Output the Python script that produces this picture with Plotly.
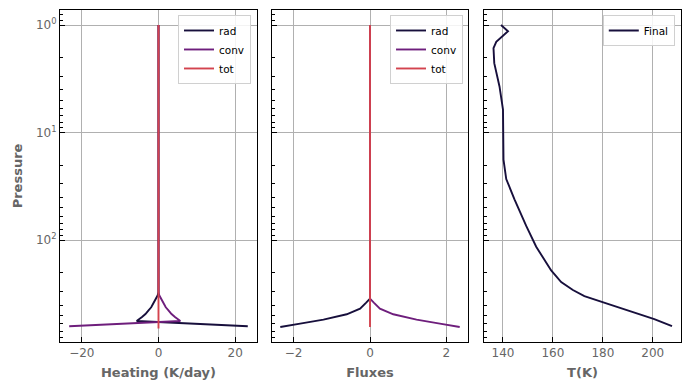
import plotly.graph_objects as go

# ---- data ----
# Heating rates (K/day)
p_heat = [1, 303, 325, 360, 388, 420, 448, 485, 517, 545, 563, 631]
heat_rad = [0, 0, -0.2, -0.8, -1.3, -1.9, -2.6, -3.4, -4.3, -5.1, -5.7, 23.3]
heat_conv = [0, 0, 0.2, 0.8, 1.3, 1.9, 2.6, 3.4, 4.3, 5.1, 5.7, -23.3]
p_heat_tot = [1, 660]
heat_tot = [0, 0]

# Fluxes
p_flux = [1, 349, 380, 432, 488, 547, 596, 641]
flux_rad = [0, 0, -0.1, -0.26, -0.61, -1.22, -1.83, -2.35]
flux_conv = [0, 0, 0.1, 0.26, 0.61, 1.22, 1.83, 2.35]
p_flux_tot = [1, 641]
flux_tot = [0, 0]

# Temperature profile
p_T = [1, 1.14, 1.43, 1.64, 2.26, 3.72, 6.1, 9.7, 17.8, 27, 41.7, 73.6, 115, 191,
       245, 290, 331, 390, 467, 540, 630]
T_final = [139.2, 142.0, 137.3, 136.2, 136.5, 138.6, 140.0, 140.2, 140.2, 141.3, 144.6,
           149.3, 153.3, 159.3, 163.3, 168.0, 172.6, 182.0, 192.6, 200.6, 207.7]

yticks = [1, 10, 100]
ytick_text = ["10<sup>0</sup>", "10<sup>1</sup>", "10<sup>2</sup>"]

C_RAD = "#170f3c"
C_CONV = "#6e1e7c"
C_TOT = "#d3434e"
LW = 1.9

fig = go.Figure()

def add(x, y, name, color, xa, ya, leg):
    fig.add_trace(go.Scatter(x=x, y=y, mode="lines", name=name,
                             line=dict(color=color, width=LW),
                             xaxis=xa, yaxis=ya, legend=leg))

add(heat_rad, p_heat, "rad", C_RAD, "x", "y", "legend")
add(heat_conv, p_heat, "conv", C_CONV, "x", "y", "legend")
add(heat_tot, p_heat_tot, "tot", C_TOT, "x", "y", "legend")
add(flux_rad, p_flux, "rad", C_RAD, "x2", "y2", "legend2")
add(flux_conv, p_flux, "conv", C_CONV, "x2", "y2", "legend2")
add(flux_tot, p_flux_tot, "tot", C_TOT, "x2", "y2", "legend2")
add(T_final, p_T, "Final", C_RAD, "x3", "y3", "legend3")

FONT = "DejaVu Sans"
GREY = "#666666"

def xax(domain, rng, title, dtick, anchor):
    return dict(domain=domain, range=rng, autorange=False, dtick=dtick, anchor=anchor,
                automargin=False,
                showgrid=True, gridcolor="#b0b0b0", gridwidth=1,
                zeroline=False, showline=True, linecolor="black", linewidth=1,
                mirror=True, ticks="inside", ticklen=5, tickcolor="black",
                tickfont=dict(family=FONT, size=12, color=GREY),
                title=dict(text="<b>" + title + "</b>", standoff=8,
                           font=dict(family=FONT, size=13, color=GREY)))

def yax(anchor, labels):
    d = dict(type="log", range=[2.946, -0.14], autorange=False, anchor=anchor,
             domain=[0, 1], automargin=False,
             tickvals=yticks, ticktext=ytick_text, showticklabels=labels,
             showgrid=True, gridcolor="#b0b0b0", gridwidth=1, zeroline=False,
             showline=True, linecolor="black", linewidth=1, mirror=True,
             ticks="inside", ticklen=5, tickcolor="black",
             minor=dict(ticks="inside", ticklen=3, tickcolor="black",
                        dtick="D1", showgrid=False),
             tickfont=dict(family=FONT, size=12, color=GREY))
    if labels:
        d["title"] = dict(text="<b>Pressure</b>", standoff=10,
                          font=dict(family=FONT, size=13, color=GREY))
    return d

d1 = [0, 0.3172]
d2 = [0.3406, 0.6578]
d3 = [0.6828, 1.0]

leg_common = dict(xanchor="right", yanchor="top", bgcolor="rgba(255,255,255,0.85)",
                  bordercolor="#d0d0d0", borderwidth=1,
                  font=dict(family=FONT, size=10.5, color="black"),
                  tracegroupgap=0, itemwidth=30)

fig.update_layout(
    width=690, height=390,
    margin=dict(l=60, r=9, t=10, b=48),
    paper_bgcolor="white", plot_bgcolor="white",
    showlegend=True,
    xaxis=xax(d1, [-25.7, 25.7], "Heating (K/day)", 20, "y"),
    xaxis2=xax(d2, [-2.58, 2.58], "Fluxes", 2, "y2"),
    xaxis3=xax(d3, [132.4, 211.3], "T(K)", 20, "y3"),
    yaxis=yax("x", True),
    yaxis2=yax("x2", False),
    yaxis3=yax("x3", False),
    legend=dict(x=0.3076, y=0.985, **leg_common),
    legend2=dict(x=0.649, y=0.985, **leg_common),
    legend3=dict(x=0.990, y=0.985, **leg_common),
)

fig.write_html("out.html", config={"displayModeBar": False},
               post_script="document.body.style.margin='0';")
